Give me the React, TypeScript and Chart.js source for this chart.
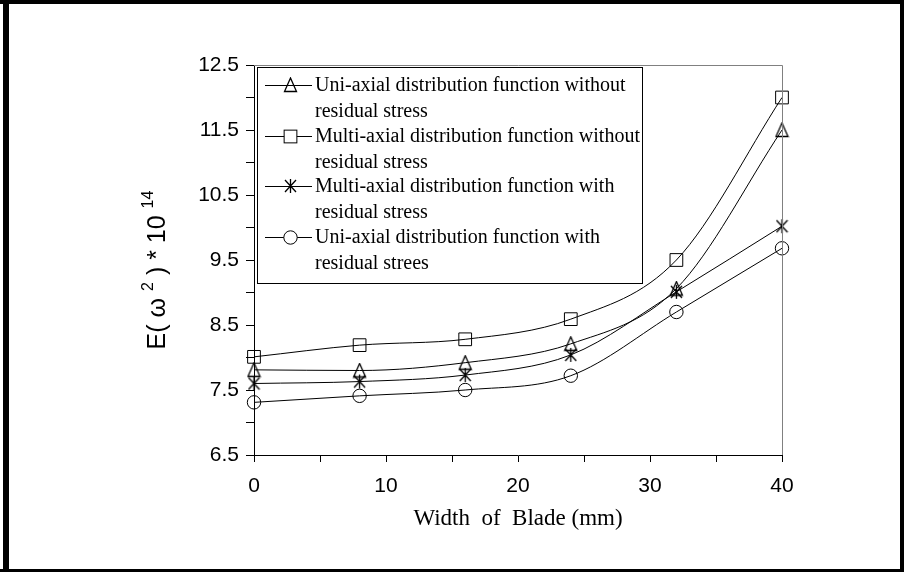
import React, { useEffect, useRef } from "react";
import { Chart, registerables } from "chart.js";

Chart.register(...registerables);

const widths = [0, 8, 16, 24, 32, 40];
const uniWithout = [7.81, 7.8, 7.92, 8.21, 9.06, 11.5];
const multiWithout = [8.01, 8.19, 8.28, 8.59, 9.5, 12.0];
const multiWith = [7.6, 7.63, 7.73, 8.04, 9.01, 10.02];
const uniWith = [7.31, 7.41, 7.5, 7.72, 8.7, 9.68];

const legendLines = [
  ["Uni-axial distribution function without", "residual stress"],
  ["Multi-axial distribution function without", "residual stress"],
  ["Multi-axial distribution function with", "residual stress"],
  ["Uni-axial distribution function with", "residual strees"],
];

const xTitle = "Width  of  Blade (mm)";

function makeTriangle(): HTMLCanvasElement {
  const c = document.createElement("canvas");
  c.width = 15;
  c.height = 16;
  const g = c.getContext("2d")!;
  g.strokeStyle = "#000";
  g.lineWidth = 1.3;
  g.beginPath();
  g.moveTo(7.5, 1);
  g.lineTo(1.5, 14.5);
  g.lineTo(13.5, 14.5);
  g.closePath();
  g.stroke();
  return c;
}

function makeAsterisk(): HTMLCanvasElement {
  const c = document.createElement("canvas");
  c.width = 13;
  c.height = 16;
  const g = c.getContext("2d")!;
  g.strokeStyle = "#000";
  g.lineWidth = 1.3;
  g.beginPath();
  g.moveTo(6.5, 1);
  g.lineTo(6.5, 15);
  g.moveTo(1, 2);
  g.lineTo(12, 14);
  g.moveTo(12, 2);
  g.lineTo(1, 14);
  g.stroke();
  return c;
}

export default function App() {
  const ref = useRef<HTMLCanvasElement>(null);

  useEffect(() => {
    document.body.style.margin = "0";
    const tri = makeTriangle();
    const ast = makeAsterisk();

    const legendStyles: any[] = [
      { style: tri },
      { style: "rect", r: 9 },
      { style: ast },
      { style: "circle", r: 6.7 },
    ];

    const framePlugin = {
      id: "frame",
      beforeDraw(chart: any) {
        const ctx = chart.ctx;
        ctx.save();
        ctx.fillStyle = "#fff";
        ctx.fillRect(0, 0, 904, 572);
        ctx.fillStyle = "#000";
        ctx.fillRect(0, 0, 904, 4);
        ctx.fillRect(3, 0, 6, 572);
        ctx.fillRect(900, 0, 4, 572);
        ctx.fillRect(0, 569, 904, 3);
        ctx.restore();
      },
      afterDraw(chart: any) {
        const ctx = chart.ctx;
        const a = chart.chartArea;
        ctx.save();
        // top and right plot border
        ctx.strokeStyle = "#808080";
        ctx.lineWidth = 1;
        ctx.beginPath();
        ctx.moveTo(a.left, Math.round(a.top) + 0.5);
        ctx.lineTo(a.right + 0.5, Math.round(a.top) + 0.5);
        ctx.lineTo(a.right + 0.5, a.bottom);
        ctx.stroke();

        // legend
        ctx.fillStyle = "#fff";
        ctx.fillRect(257.5, 67.5, 385, 216);
        ctx.strokeStyle = "#000";
        ctx.strokeRect(257.5, 67.5, 385, 216);
        ctx.font = '20px "Liberation Serif"';
        ctx.textBaseline = "middle";
        ctx.textAlign = "left";
        legendLines.forEach((lines, i) => {
          const y = Math.round(85 + i * 50.7);
          ctx.strokeStyle = "#000";
          ctx.lineWidth = 1;
          ctx.beginPath();
          ctx.moveTo(265, y + 0.5);
          ctx.lineTo(312, y + 0.5);
          ctx.stroke();
          const ls = legendStyles[i];
          if (typeof ls.style === "string") {
            ctx.fillStyle = "#fff";
            if (ls.style === "rect") {
              const s = Math.SQRT1_2 * ls.r;
              ctx.fillRect(290.5 - s, y + 0.5 - s, 2 * s, 2 * s);
              ctx.strokeRect(290.5 - s, y + 0.5 - s, 2 * s, 2 * s);
            } else {
              ctx.beginPath();
              ctx.arc(290.5, y + 0.5, ls.r, 0, Math.PI * 2);
              ctx.fill();
              ctx.stroke();
            }
          } else {
            const im = ls.style as HTMLCanvasElement;
            ctx.drawImage(im, Math.round(290 - im.width / 2), Math.round(y - im.height / 2));
          }
          ctx.fillStyle = "#000";
          ctx.fillText(lines[0], 315, y + 1);
          ctx.fillText(lines[1], 315, y + 27);
        });

        // x title
        ctx.font = '23px "Liberation Serif"';
        ctx.textAlign = "center";
        ctx.textBaseline = "middle";
        ctx.fillStyle = "#000";
        ctx.fillText(xTitle, 518, 519);

        // y title
        ctx.translate(165, 270);
        ctx.rotate(-Math.PI / 2);
        const main = '25px "Liberation Sans"';
        const sup = '16px "Liberation Sans"';
        const parts: [string, boolean][] = [
          ["E( ω ", false],
          ["2", true],
          [" ) * 10 ", false],
          ["14", true],
        ];
        let total = 0;
        parts.forEach(([t, s]) => {
          ctx.font = s ? sup : main;
          total += ctx.measureText(t).width;
        });
        let x = -total / 2;
        ctx.textAlign = "left";
        ctx.textBaseline = "alphabetic";
        parts.forEach(([t, s]) => {
          ctx.font = s ? sup : main;
          ctx.fillText(t, x, s ? -12 : 0);
          x += ctx.measureText(t).width;
        });
        ctx.restore();
      },
    };

    const mk = (label: string, data: number[], style: any, r: number) => ({
      label,
      data: widths.map((w, i) => ({ x: w, y: data[i] })),
      borderColor: "#000",
      borderWidth: 1,
      pointStyle: style,
      pointRadius: r,
      pointBorderColor: "#000",
      pointBackgroundColor: "rgba(0,0,0,0)",
      pointBorderWidth: 1,
      cubicInterpolationMode: "monotone" as const,
      fill: false,
      clip: false as any,
    });

    const chart = new Chart(ref.current!, {
      type: "line",
      data: {
        datasets: [
          mk(legendLines[0].join(" "), uniWithout, tri, 7),
          mk(legendLines[1].join(" "), multiWithout, "rect", 9),
          mk(legendLines[2].join(" "), multiWith, ast, 7),
          mk(legendLines[3].join(" "), uniWith, "circle", 6.7),
        ],
      },
      options: {
        animation: false,
        responsive: false,
        layout: { padding: { top: 65, right: 122, left: 0, bottom: 0 } },
        plugins: { legend: { display: false }, tooltip: { enabled: false } },
        scales: {
          x: {
            type: "linear",
            min: 0,
            max: 40,
            afterFit: (s: any) => {
              s.height = 117;
            },
            ticks: {
              stepSize: 5,
              color: "#000",
              font: { family: "Liberation Sans", size: 21 },
              padding: 12,
              maxRotation: 0,
              callback: (v: any) => (Number(v) % 10 === 0 ? String(v) : ""),
            },
            grid: { drawOnChartArea: false, drawTicks: true, tickLength: 7, color: "#000" },
            border: { color: "#000", width: 1 },
          },
          y: {
            type: "linear",
            min: 6.5,
            max: 12.5,
            afterFit: (s: any) => {
              s.width = 254;
            },
            ticks: {
              stepSize: 0.5,
              color: "#000",
              font: { family: "Liberation Sans", size: 21 },
              padding: 7,
              callback: (v: any) => {
                const n = Number(v);
                return Math.abs(((n - 6.5) % 1 + 1) % 1) < 1e-6 ? n.toFixed(1) : "";
              },
            },
            grid: { drawOnChartArea: false, drawTicks: true, tickLength: 8, color: "#000" },
            border: { color: "#000", width: 1 },
          },
        },
      },
      plugins: [framePlugin],
    });
    return () => chart.destroy();
  }, []);

  return (
    <div style={{ position: "absolute", left: 0, top: 0, width: 904, height: 572 }}>
      <canvas ref={ref} width={904} height={572} style={{ display: "block" }} />
    </div>
  );
}
